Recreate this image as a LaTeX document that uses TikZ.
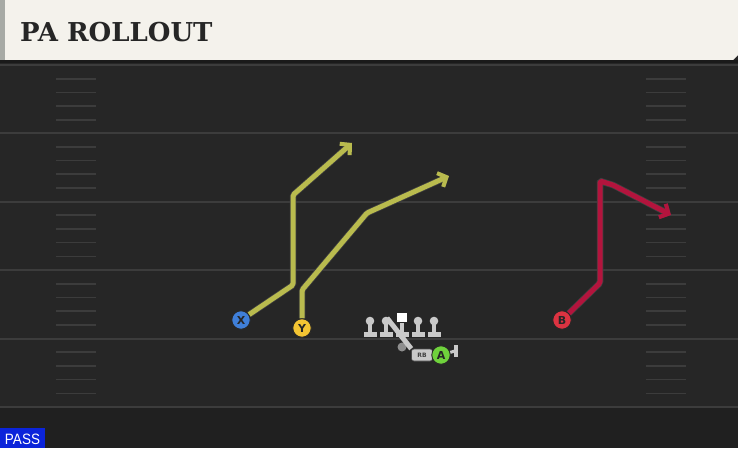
\documentclass[tikz,border=0pt]{standalone}
\usepackage{fontspec}
\setmainfont{DejaVu Sans}
\newfontfamily\titlefont{DejaVu Serif}
\newfontfamily\passfont{Liberation Sans}
\usetikzlibrary{arrows.meta}
\definecolor{fieldc}{HTML}{262626}
\definecolor{fieldlow}{HTML}{202020}
\definecolor{creamc}{HTML}{F4F2EC}
\definecolor{stripc}{HTML}{A7AAA5}
\definecolor{bandc}{HTML}{1A1A1A}
\definecolor{linec}{HTML}{3C3C3C}
\definecolor{yelroute}{HTML}{B9BB4E}
\definecolor{redroute}{HTML}{B3143D}
\definecolor{xblue}{HTML}{3F7FD9}
\definecolor{yyellow}{HTML}{F4C533}
\definecolor{bred}{HTML}{DC3341}
\definecolor{agreen}{HTML}{6FD23C}
\definecolor{olc}{HTML}{C9C9C9}
\definecolor{qbc}{HTML}{8E8E8E}
\definecolor{passblue}{HTML}{0B24DA}
\tikzset{
  yard/.style={draw=linec, line width=2pt},
  hash/.style={draw=linec, line width=1.6pt},
  route/.style={line width=5pt, line join=round, rounded corners=1.5pt,
    preaction={draw=black!75, line width=6.5pt},
    -{Straight Barb[length=7pt,width=15pt,line width=4pt]}},
  player/.style={circle, minimum size=18.5pt, inner sep=0pt, draw=black!85, line width=0.9pt,
    font=\bfseries\fontsize{11}{11}\selectfont, text=black!85},
  lineman/.pic={
    \fill[olc] (0,0) circle (4.3pt);
    \fill[olc] (-2.1,2) rectangle (2.1,13);
    \fill[olc] (-6.5,11) rectangle (6.5,15.5);
  },
  centerman/.pic={
    \fill[olc] (-2.1,2) rectangle (2.1,13);
    \fill[olc] (-6.5,11) rectangle (6.5,15.5);
    \fill[white] (-4.8,-8.5) rectangle (4.8,0.5);
  }
}
\begin{document}
\begin{tikzpicture}[x=1pt,y=-1pt]
\useasboundingbox (0,0) rectangle (738,448);
% field
\fill[fieldc] (0,0) rectangle (738,448);
\fill[fieldlow] (0,408) rectangle (738,448);
% yard lines
\foreach \y in {65,133,201.5,270,338.5,407} {
  \draw[yard] (0,\y) -- (738,\y);
}
% hash marks
\foreach \y in {65,133,201.5,270,338.5} {
  \foreach \k in {1,2,3,4} {
    \draw[hash] (56,\y+13.7*\k) -- (96,\y+13.7*\k);
    \draw[hash] (646,\y+13.7*\k) -- (686,\y+13.7*\k);
  }
}
% header
\fill[creamc] (0,0) -- (738,0) -- (738,55) -- (733,60) -- (0,60) -- cycle;
\fill[stripc] (0,0) rectangle (5,60);
\fill[bandc] (0,60) rectangle (738,63);
\node[anchor=west, inner sep=0pt, text=black!85, font=\titlefont\bfseries\fontsize{26}{26}\selectfont] (title) at (20,32) {PA ROLLOUT};
% players
\node[player, fill=xblue] (X) at (241,320) {X};
\node[player, fill=yyellow] (Y) at (302,328) {Y};
\node[player, fill=bred] (B) at (562,320) {B};
% routes
\coordinate (xend) at (352,143);
\coordinate (yend) at (449,176);
\coordinate (bend) at (671,215);
\draw[route, yelroute] (X) -- (293,285) -- (293,195) -- (xend);
\draw[route, yelroute] (Y) -- (302,290) -- (367,213) -- (yend);
\draw[route, redroute] (B) -- (600,283) -- (600,181) -- (613,185) -- (bend);
% redraw players on top of routes
\node[player, fill=xblue] at (X) {X};
\node[player, fill=yyellow] at (Y) {Y};
\node[player, fill=bred] at (B) {B};
% offensive line
\pic (lt) at (370,321) {lineman};
\pic (lg) at (386,321) {lineman};
\pic (c) at (402,321) {centerman};
\pic (rg) at (418,321) {lineman};
\pic (rt) at (434,321) {lineman};
\coordinate (fakestart) at (387,318);
% QB
\node[circle, fill=qbc, minimum size=9pt, inner sep=0pt] (qb) at (402,347) {};
% RB
\node[draw=black!70, line width=0.6pt, fill=olc, rounded corners=2.5pt, minimum width=21pt, minimum height=12pt,
  inner sep=0pt, font=\bfseries\fontsize{6}{6}\selectfont, text=black!75] (rb) at (422,355) {RB};
\draw[olc, line width=5pt] (fakestart) -- (rb.north west);
% A and block
\node[player, fill=agreen] (A) at (441,355) {A};
\coordinate (blk) at (455,351);
\draw[olc, line width=3pt] (A) -- (blk);
\draw[olc, line width=4pt] (456,345) -- (456,357);
% PASS tag
\fill[passblue] (0,428) rectangle (45,448);
\node[text=white, inner sep=0pt, font=\passfont\fontsize{15}{15}\selectfont] (pass) at (22.5,439) {\scalebox{0.9}[1]{PASS}};
\end{tikzpicture}
\end{document}
